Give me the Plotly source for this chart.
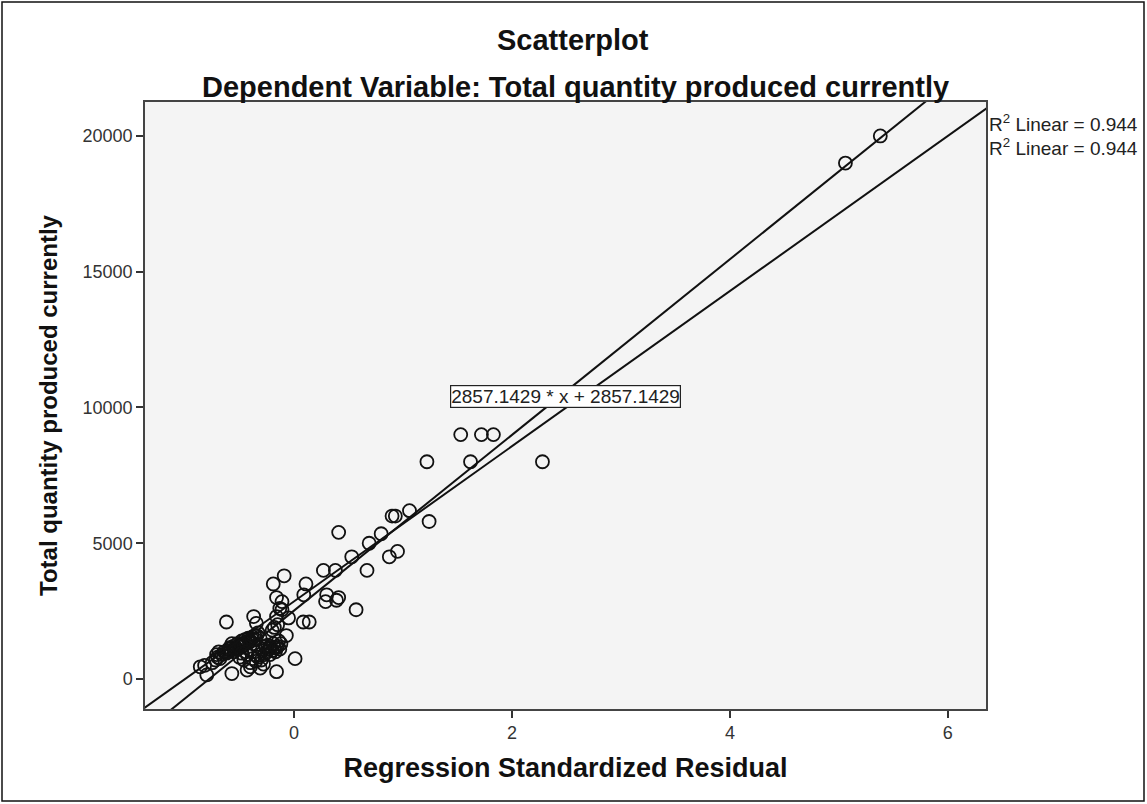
import plotly.graph_objects as go

# Scatter data: (Regression Standardized Residual, Total quantity produced currently)
resid = [
    5.38, 5.06,
    1.53, 1.72, 1.83, 1.22, 1.62, 2.28,
    1.06, 0.90, 0.93, 1.24, 0.41, 0.80, 0.69, 0.95, 0.875, 0.53,
    0.27, 0.38, 0.67, -0.09, -0.19, 0.11, 0.09, -0.16, -0.11,
    0.30, 0.41, 0.29, 0.39, 0.57, -0.13,
    -0.62, -0.37, -0.345, -0.16, -0.11, -0.05, 0.085, 0.14, -0.07,
    0.01, -0.16, -0.57, -0.43, -0.40, -0.31, -0.86, -0.82, -0.80, -0.71,
    -0.57, -0.69,
    -0.75, -0.72, -0.70, -0.68, -0.66, -0.64, -0.62, -0.60, -0.58, -0.56,
    -0.55, -0.53, -0.52, -0.50, -0.48, -0.47, -0.45, -0.44, -0.42, -0.40,
    -0.38, -0.37, -0.36, -0.35, -0.33, -0.50, -0.46, -0.43, -0.40, -0.38,
    -0.35, -0.33, -0.30, -0.28, -0.27, -0.25, -0.23, -0.22, -0.20, -0.19,
    -0.18, -0.17, -0.15, -0.14, -0.13, -0.12, -0.20, -0.18, -0.15,
    -0.61, -0.59, -0.54, -0.51, -0.49, -0.46, -0.41, -0.39, -0.34, -0.31,
    -0.29, -0.26, -0.24, -0.21, -0.44, -0.48, -0.36, -0.32, -0.16, -0.22,
]
quantity = [
    20000, 19000,
    9000, 9000, 9000, 8000, 8000, 8000,
    6200, 6000, 6000, 5800, 5400, 5350, 5000, 4700, 4500, 4500,
    4000, 4000, 4000, 3800, 3500, 3500, 3100, 3000, 2850,
    3100, 3000, 2850, 2900, 2550, 2600,
    2100, 2300, 2050, 2300, 2550, 2250, 2100, 2100, 1600,
    750, 270, 200, 330, 450, 400, 450, 500, 150, 900,
    1300, 1000,
    600, 700, 800, 750, 900, 1000, 950, 1100, 1050, 1200,
    1000, 1150, 1300, 1250, 1400, 1200, 1450, 1350, 1500, 1400,
    1550, 1300, 1600, 1450, 1700, 800, 700, 900, 600, 750,
    650, 800, 700, 550, 900, 1000, 1100, 1200, 1050, 1300,
    1150, 1000, 1200, 1400, 1100, 1300, 1800, 1900, 2000,
    1000, 1150, 1100, 1200, 1300, 1250, 1350, 1500, 1600, 1500,
    1100, 1200, 1250, 1150, 1000, 950, 1000, 900, 1150, 900,
]

# Reference line (labelled) and fitted line coefficients
ref_slope, ref_intercept = 2857.1429, 2857.1429
fit_slope, fit_intercept = 3235.0, 2518.0
r2_labels = ["R<sup>2</sup> Linear = 0.944", "R<sup>2</sup> Linear = 0.944"]
equation_label = "2857.1429 * x + 2857.1429"
line_x = [-2.0, 7.0]

x_ticks = [0, 2, 4, 6]
x_tick_labels = ["0", "2", "4", "6"]
y_ticks = [0, 5000, 10000, 15000, 20000]
y_tick_labels = ["0", "5000", "10000", "15000", "20000"]

FONT = "Liberation Sans, Arial, sans-serif"
INK = "#111111"

fig = go.Figure()
fig.add_trace(go.Scatter(
    x=resid, y=quantity, mode="markers",
    marker=dict(symbol="circle-open", size=13, color=INK,
                line=dict(width=1.8, color=INK)),
    showlegend=False, cliponaxis=True,
))
fig.add_trace(go.Scatter(
    x=line_x, y=[fit_slope * v + fit_intercept for v in line_x],
    mode="lines", line=dict(color=INK, width=2), showlegend=False,
))
fig.add_trace(go.Scatter(
    x=line_x, y=[ref_slope * v + ref_intercept for v in line_x],
    mode="lines", line=dict(color=INK, width=2), showlegend=False,
))

ML, MR, MT, MB = 145, 161, 102, 95
W, H = 1147, 804
pw, ph = W - ML - MR, H - MT - MB

def px_to_paper_x(px):
    return (px - ML) / pw

def px_to_paper_y(py):
    return (H - MB - py) / ph

fig.update_layout(
    width=W, height=H,
    margin=dict(l=ML, r=MR, t=MT, b=MB),
    paper_bgcolor="white", plot_bgcolor="#F4F4F4",
    font=dict(family=FONT, color="#222222"),
    xaxis=dict(
        range=[-1.367, 6.35], tickvals=x_ticks, ticktext=x_tick_labels,
        ticks="outside", ticklen=7,
        tickwidth=1.8, tickcolor="#333333", showgrid=False, zeroline=False,
        showline=True, linecolor="#444444", linewidth=1.5, mirror=True,
        tickfont=dict(size=18, color="#333333", family=FONT),
        title=dict(text="<b>Regression Standardized Residual</b>",
                   font=dict(size=27, color=INK, family=FONT), standoff=16),
    ),
    yaxis=dict(
        range=[-1105, 21250], tickvals=y_ticks, ticktext=y_tick_labels,
        ticks="outside", ticklen=7,
        tickwidth=1.8, tickcolor="#333333", showgrid=False, zeroline=False,
        showline=True, linecolor="#444444", linewidth=1.5, mirror=True,
        tickfont=dict(size=18, color="#333333", family=FONT),
        title=dict(text="<b>Total quantity produced currently</b>",
                   font=dict(size=24, color=INK, family=FONT), standoff=18),
    ),
)

annotations = [
    dict(text="<b>Scatterplot</b>", xref="paper", yref="paper",
         x=px_to_paper_x(573), y=px_to_paper_y(40), showarrow=False,
         font=dict(size=29, color=INK, family=FONT), xanchor="center", yanchor="middle"),
    dict(text="<b>Dependent Variable: Total quantity produced currently</b>", xref="paper", yref="paper",
         x=px_to_paper_x(575), y=px_to_paper_y(87), showarrow=False,
         font=dict(size=29, color=INK, family=FONT), xanchor="center", yanchor="middle"),
    dict(text=equation_label, xref="x", yref="y",
         x=2.49, y=10390, showarrow=False, bgcolor="white", bordercolor="#222222",
         borderwidth=1.2, borderpad=0, font=dict(size=19, color="#222222", family=FONT)),
]
for i, lbl in enumerate(r2_labels):
    annotations.append(dict(
        text=lbl, xref="paper", yref="paper", x=px_to_paper_x(987),
        y=px_to_paper_y(123 + 24 * i), showarrow=False, xanchor="left", yanchor="middle",
        font=dict(size=19, color="#222222", family=FONT)))
fig.update_layout(annotations=annotations)

fig.add_shape(type="rect", xref="paper", yref="paper",
              x0=px_to_paper_x(2), x1=px_to_paper_x(1144),
              y0=px_to_paper_y(801), y1=px_to_paper_y(2),
              line=dict(color=INK, width=1.5), fillcolor="rgba(0,0,0,0)", layer="above")

fig.write_html("out.html")
